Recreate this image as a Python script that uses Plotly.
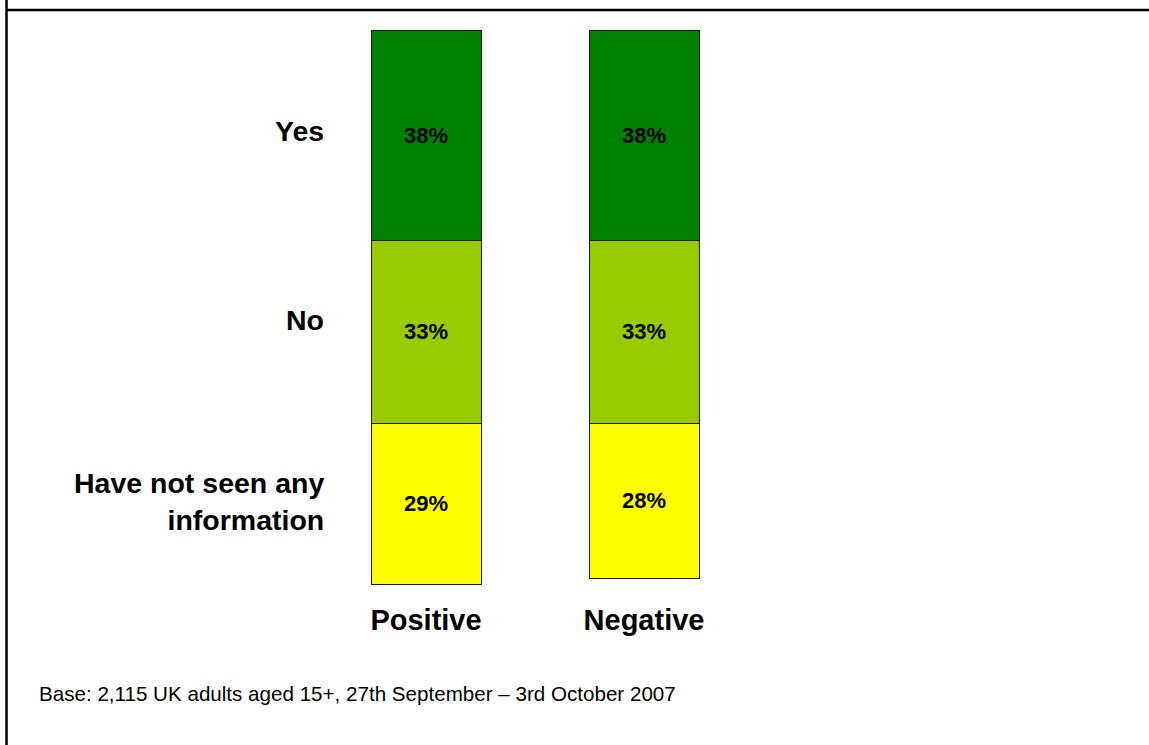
import plotly.graph_objects as go

W, H = 1149, 745

# Chart data (stacked from the top down)
groups = ["Positive", "Negative"]
answers = ["Yes", "No", "Have not seen any information"]
answer_labels = ["Yes", "No", "Have not seen any<br>information"]
values = {
    "Yes": [38, 38],
    "No": [33, 33],
    "Have not seen any information": [29, 28],
}
colors = {
    "Yes": "#008000",
    "No": "#99CC00",
    "Have not seen any information": "#FFFF00",
}
footnote = "Base: 2,115 UK adults aged 15+, 27th September \u2013 3rd October 2007"

FONT = "Liberation Sans, Arial, sans-serif"

def px_x(p):
    return p / W

def px_y(p):
    return 1 - p / H

# vertical scale: 0% at y=30px, 100% at y=584px; pad the plot area a little
# so the bar outlines are not clipped at its edges
PX_PER_PCT = (584 - 30) / 100
PAD = 4

fig = go.Figure()
for ans in answers:
    fig.add_trace(go.Bar(
        x=groups,
        y=values[ans],
        name=ans,
        width=110 / 218,
        marker=dict(color=colors[ans], line=dict(color="#1a1a1a", width=1)),
        texttemplate="<b>%{y:.0f}%</b>",
        textposition="inside",
        insidetextanchor="middle",
        textangle=0,
        textfont=dict(family=FONT, size=22, color="black"),
        constraintext="none",
        hoverinfo="skip",
    ))

# Row labels to the left of the bars
label_pos = {"Yes": 131, "No": 320, "Have not seen any information": 501}
for ans, lab in zip(answers, answer_labels):
    fig.add_annotation(
        x=px_x(326), y=px_y(label_pos[ans]), xref="paper", yref="paper",
        xanchor="right", yanchor="middle", align="right",
        text=f"<b>{lab}</b>", showarrow=False,
        font=dict(family=FONT, size=28.5, color="black"),
    )

fig.add_annotation(
    x=px_x(37), y=px_y(693), xref="paper", yref="paper",
    xanchor="left", yanchor="middle", text=footnote, showarrow=False,
    font=dict(family=FONT, size=20.6, color="black"),
)

# Frame lines
fig.add_shape(type="line", xref="paper", yref="paper",
              x0=px_x(6.5), x1=px_x(6.5), y0=-0.01, y1=1.01,
              line=dict(color="black", width=2.5))
fig.add_shape(type="line", xref="paper", yref="paper",
              x0=px_x(6.5), x1=1.01, y0=px_y(10), y1=px_y(10),
              line=dict(color="black", width=2.5))

fig.update_layout(
    width=W, height=H,
    margin=dict(l=0, r=0, t=0, b=0),
    paper_bgcolor="white", plot_bgcolor="white",
    barmode="stack", showlegend=False,
    xaxis=dict(
        domain=[0, 1],
        range=[(0 - 426) / 218, (W - 426) / 218],
        showgrid=False, zeroline=False, showline=False,
        ticks="", ticklabelstandoff=16 - PAD,
        tickfont=dict(family=FONT, size=29, color="black", weight="bold"),
        fixedrange=True,
    ),
    yaxis=dict(
        domain=[(H - 584 - PAD) / H, (H - 30 + PAD) / H],
        range=[100 + PAD / PX_PER_PCT, -PAD / PX_PER_PCT],
        visible=False, fixedrange=True,
    ),
)

fig.write_html("out.html", config={"displayModeBar": False})
